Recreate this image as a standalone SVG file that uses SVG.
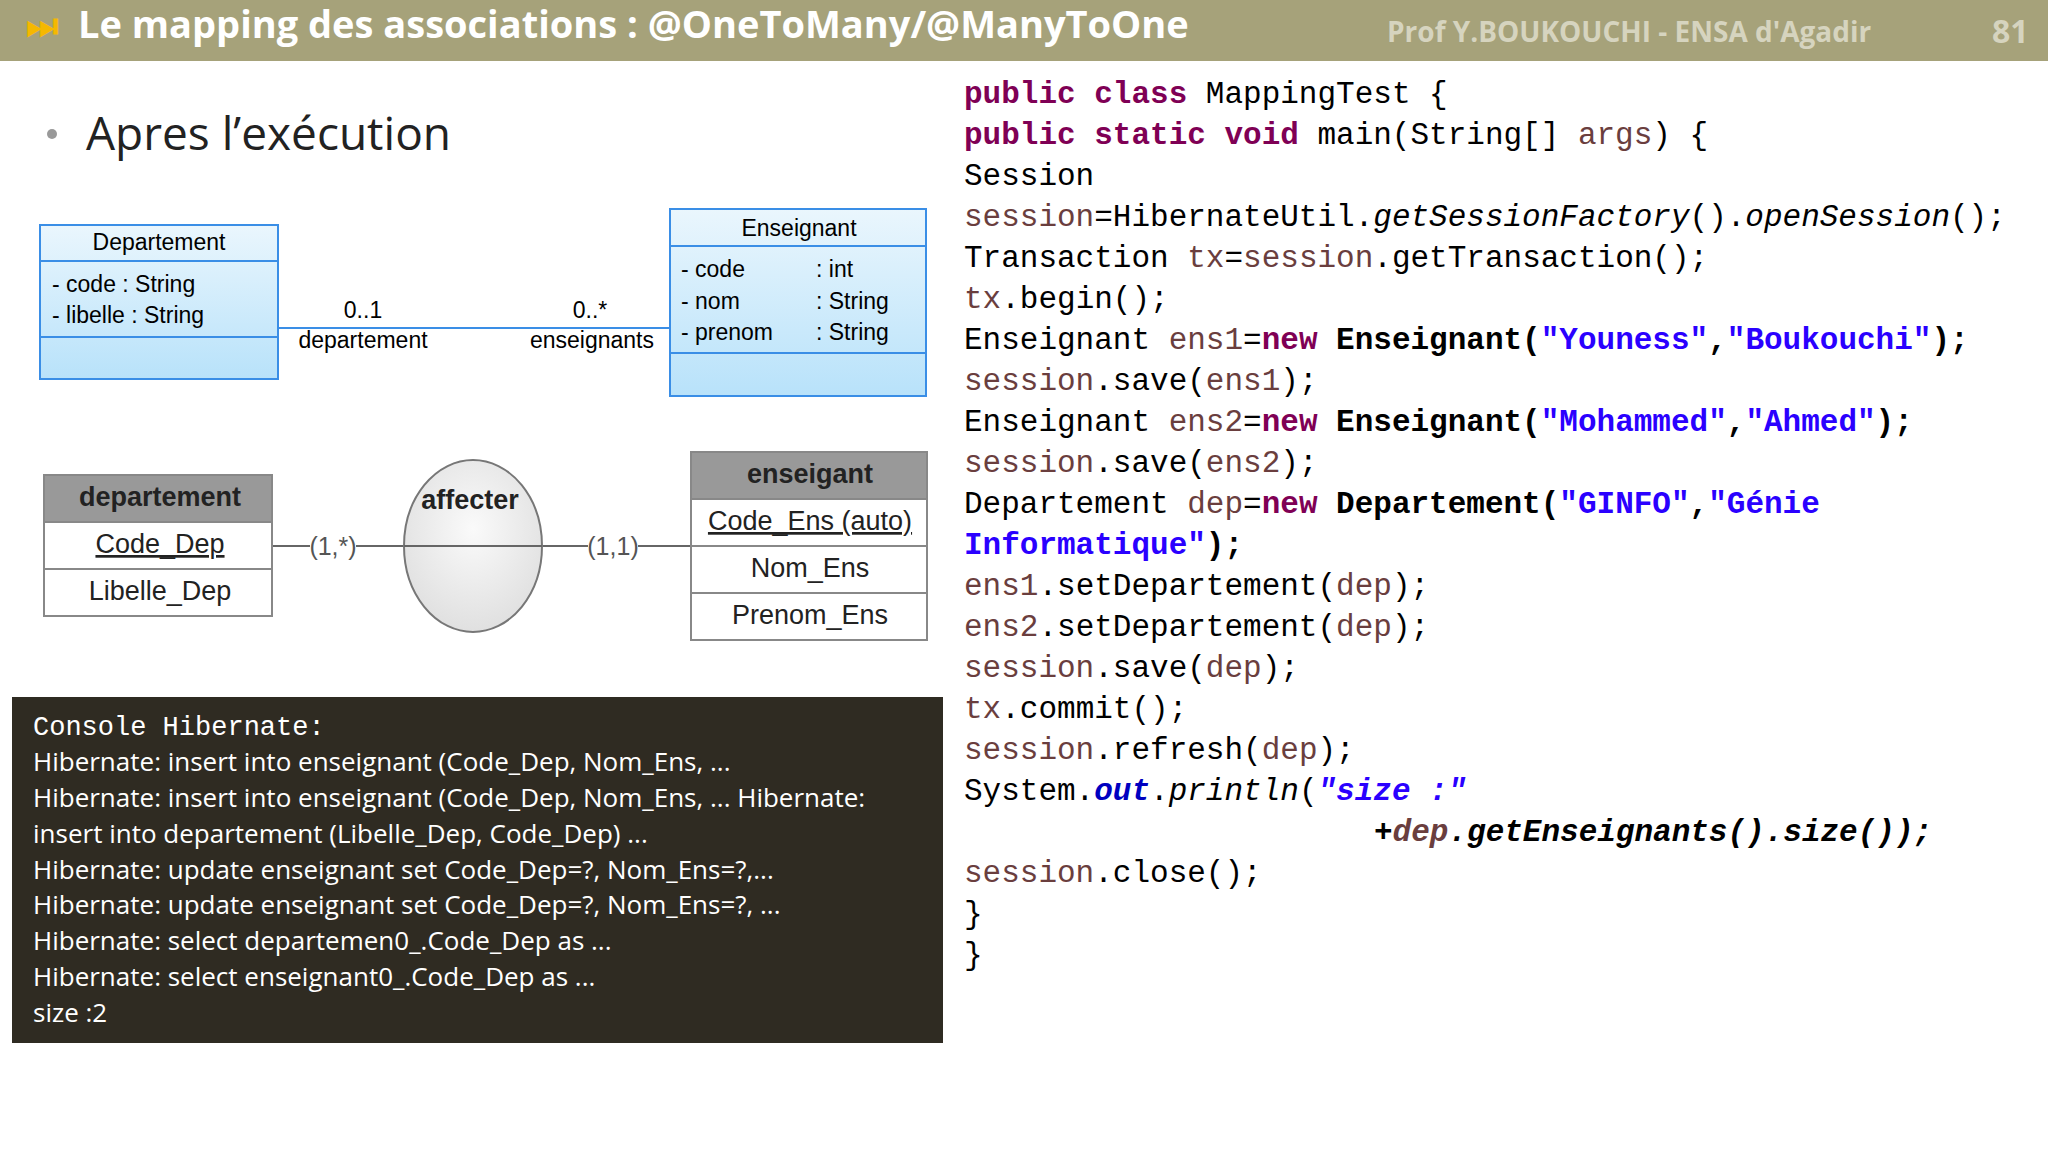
<svg xmlns="http://www.w3.org/2000/svg" width="2048" height="1152" viewBox="0 0 2048 1152">
<style>
.t{font-family:"Liberation Sans",Arial,sans-serif}
.o{font-family:"Open Sans","Liberation Sans",sans-serif}
.m{font-family:"Liberation Mono","DejaVu Sans Mono",monospace;font-size:31px;fill:#000}
.k{fill:#7f0055;font-weight:bold}
.s{fill:#2a00ff;font-weight:bold}
.v{fill:#6a3e3e}
.i{font-style:italic}
.b{font-weight:bold}
.uml{fill:url(#g);stroke:#3a8ee6;stroke-width:2}
.er{fill:#fff;stroke:#888;stroke-width:2}
.erh{fill:#999;stroke:#888;stroke-width:2}
.c{font-family:"Open Sans","Liberation Sans",sans-serif;font-size:26px;fill:#fff}
</style>
<defs>
<linearGradient id="g" x1="0" y1="0" x2="0" y2="1"><stop offset="0" stop-color="#eaf6fd"/><stop offset="1" stop-color="#b8e2fa"/></linearGradient>
<radialGradient id="eg" cx="0.5" cy="0.4" r="0.6"><stop offset="0" stop-color="#fafafa"/><stop offset="1" stop-color="#e0e0e0"/></radialGradient>
</defs>
<rect width="2048" height="1152" fill="#fff"/>
<rect width="2048" height="61" fill="#a6a27a"/>
<g id="header">
<text x="26" y="38" class="o" font-size="36" fill="#f5b800" font-weight="bold">⏭</text>
<text x="78" y="38" class="o" font-size="38" fill="#fff" font-weight="bold">Le mapping des associations : @OneToMany/@ManyToOne</text>
<text x="1387" y="42" class="o" font-size="28" fill="#d6d4bf" font-weight="bold">Prof Y.BOUKOUCHI - ENSA d'Agadir</text>
<text x="1992" y="43" class="o" font-size="32" fill="#d6d4bf" font-weight="bold">81</text>
</g>
<g id="bullet">
<circle cx="52" cy="134" r="5" fill="#999"/>
<text x="86" y="150" class="o" font-size="46" fill="#222">Apres l’exécution</text>
</g>
<g id="connectors" stroke="#666" stroke-width="2" fill="none">
<line x1="278" y1="328" x2="670" y2="328" stroke="#3a8ee6"/>
<line x1="272" y1="546" x2="691" y2="546"/>
</g>
<g id="uml-departement" class="t">
<rect x="40" y="225" width="238" height="154" class="uml"/>
<line x1="40" y1="261" x2="278" y2="261" stroke="#3a8ee6" stroke-width="2"/>
<line x1="40" y1="337" x2="278" y2="337" stroke="#3a8ee6" stroke-width="2"/>
<text x="159" y="250" font-size="23" text-anchor="middle">Departement</text>
<text x="52" y="292" font-size="23">-  code     : String</text>
<text x="52" y="323" font-size="23">-  libelle   : String</text>
</g>
<g id="uml-enseignant" class="t">
<rect x="670" y="209" width="256" height="187" class="uml"/>
<line x1="670" y1="246" x2="926" y2="246" stroke="#3a8ee6" stroke-width="2"/>
<line x1="670" y1="353" x2="926" y2="353" stroke="#3a8ee6" stroke-width="2"/>
<text x="799" y="236" font-size="23" text-anchor="middle">Enseignant</text>
<text x="681" y="277" font-size="23">-  code</text><text x="816" y="277" font-size="23">: int</text>
<text x="681" y="309" font-size="23">-  nom</text><text x="816" y="309" font-size="23">: String</text>
<text x="681" y="340" font-size="23">-  prenom</text><text x="816" y="340" font-size="23">: String</text>
</g>
<g id="uml-labels" class="t" font-size="23" text-anchor="middle">
<text x="363" y="318">0..1</text>
<text x="363" y="348">departement</text>
<text x="590" y="318">0..*</text>
<text x="592" y="348">enseignants</text>
</g>
<g id="er-departement" class="t">
<rect x="44" y="475" width="228" height="141" class="er"/>
<rect x="44" y="475" width="228" height="47" class="erh"/>
<line x1="44" y1="569" x2="272" y2="569" stroke="#888" stroke-width="2"/>
<text x="160" y="506" font-size="27" font-weight="bold" text-anchor="middle" fill="#222">departement</text>
<text x="160" y="553" font-size="27" text-anchor="middle" text-decoration="underline" fill="#222">Code_Dep</text>
<text x="160" y="600" font-size="27" text-anchor="middle" fill="#222">Libelle_Dep</text>
</g>
<g id="er-affecter" class="t">
<ellipse cx="473" cy="546" rx="69" ry="86" fill="url(#eg)" stroke="#777" stroke-width="2"/>
<line x1="404" y1="546" x2="542" y2="546" stroke="#666" stroke-width="2"/>
<text x="470" y="509" font-size="27" font-weight="bold" text-anchor="middle" fill="#222">affecter</text>
</g>
<g id="er-enseigant" class="t">
<rect x="691" y="452" width="236" height="188" class="er"/>
<rect x="691" y="452" width="236" height="47" class="erh"/>
<line x1="691" y1="546" x2="927" y2="546" stroke="#888" stroke-width="2"/>
<line x1="691" y1="593" x2="927" y2="593" stroke="#888" stroke-width="2"/>
<text x="810" y="483" font-size="27" font-weight="bold" text-anchor="middle" fill="#222">enseigant</text>
<text x="810" y="530" font-size="27" text-anchor="middle" text-decoration="underline" fill="#222">Code_Ens (auto)</text>
<text x="810" y="577" font-size="27" text-anchor="middle" fill="#222">Nom_Ens</text>
<text x="810" y="624" font-size="27" text-anchor="middle" fill="#222">Prenom_Ens</text>
</g>
<g id="er-labels" class="t" font-size="25" fill="#555" text-anchor="middle">
<rect x="310" y="530" width="46" height="30" fill="#fff"/>
<rect x="588" y="530" width="50" height="30" fill="#fff"/>
<text x="333" y="555">(1,*)</text>
<text x="613" y="555">(1,1)</text>
</g>
<g id="console">
<rect x="12" y="697" width="931" height="346" fill="#2f2b22"/>
<text x="33" y="735" font-family="Liberation Mono,monospace" font-size="27" fill="#fff">Console Hibernate:</text>
<text x="33" y="771" class="c">Hibernate: insert into enseignant (Code_Dep, Nom_Ens, ...</text>
<text x="33" y="807" class="c">Hibernate: insert into enseignant (Code_Dep, Nom_Ens, ... Hibernate:</text>
<text x="33" y="843" class="c">insert into departement (Libelle_Dep, Code_Dep) ...</text>
<text x="33" y="879" class="c">Hibernate: update enseignant set Code_Dep=?, Nom_Ens=?,...</text>
<text x="33" y="914" class="c">Hibernate: update enseignant set Code_Dep=?, Nom_Ens=?, ...</text>
<text x="33" y="950" class="c">Hibernate: select departemen0_.Code_Dep as ...</text>
<text x="33" y="986" class="c">Hibernate: select enseignant0_.Code_Dep as ...</text>
<text x="33" y="1022" class="c">size :2</text>
</g>
<g id="code" class="m">
<text x="964" y="103"><tspan class="k">public class</tspan> MappingTest {</text>
<text x="964" y="144"><tspan class="k">public static void</tspan> main(String[] <tspan class="v">args</tspan>) {</text>
<text x="964" y="185">Session</text>
<text x="964" y="226"><tspan class="v">session</tspan>=HibernateUtil.<tspan class="i">getSessionFactory</tspan>().<tspan class="i">openSession</tspan>();</text>
<text x="964" y="267">Transaction <tspan class="v">tx</tspan>=<tspan class="v">session</tspan>.getTransaction();</text>
<text x="964" y="308"><tspan class="v">tx</tspan>.begin();</text>
<text x="964" y="349">Enseignant <tspan class="v">ens1</tspan>=<tspan class="k">new</tspan> <tspan class="b">Enseignant(</tspan><tspan class="s">"Youness"</tspan><tspan class="b">,</tspan><tspan class="s">"Boukouchi"</tspan><tspan class="b">);</tspan></text>
<text x="964" y="390"><tspan class="v">session</tspan>.save(<tspan class="v">ens1</tspan>);</text>
<text x="964" y="431">Enseignant <tspan class="v">ens2</tspan>=<tspan class="k">new</tspan> <tspan class="b">Enseignant(</tspan><tspan class="s">"Mohammed"</tspan><tspan class="b">,</tspan><tspan class="s">"Ahmed"</tspan><tspan class="b">);</tspan></text>
<text x="964" y="472"><tspan class="v">session</tspan>.save(<tspan class="v">ens2</tspan>);</text>
<text x="964" y="513">Departement <tspan class="v">dep</tspan>=<tspan class="k">new</tspan> <tspan class="b">Departement(</tspan><tspan class="s">"GINFO"</tspan><tspan class="b">,</tspan><tspan class="s">"Génie</tspan></text>
<text x="964" y="554"><tspan class="s">Informatique"</tspan><tspan class="b">);</tspan></text>
<text x="964" y="595"><tspan class="v">ens1</tspan>.setDepartement(<tspan class="v">dep</tspan>);</text>
<text x="964" y="636"><tspan class="v">ens2</tspan>.setDepartement(<tspan class="v">dep</tspan>);</text>
<text x="964" y="677"><tspan class="v">session</tspan>.save(<tspan class="v">dep</tspan>);</text>
<text x="964" y="718"><tspan class="v">tx</tspan>.commit();</text>
<text x="964" y="759"><tspan class="v">session</tspan>.refresh(<tspan class="v">dep</tspan>);</text>
<text x="964" y="800">System.<tspan fill="#0000c0" font-weight="bold" font-style="italic">out</tspan>.<tspan class="i">println</tspan>(<tspan fill="#2a00ff" font-weight="bold" font-style="italic">"size :"</tspan></text>
<text x="1374" y="841" class="i b">+<tspan class="v">dep</tspan>.getEnseignants().size());</text>
<text x="964" y="882"><tspan class="v">session</tspan>.close();</text>
<text x="964" y="923">}</text>
<text x="964" y="964">}</text>
</g>
</svg>
